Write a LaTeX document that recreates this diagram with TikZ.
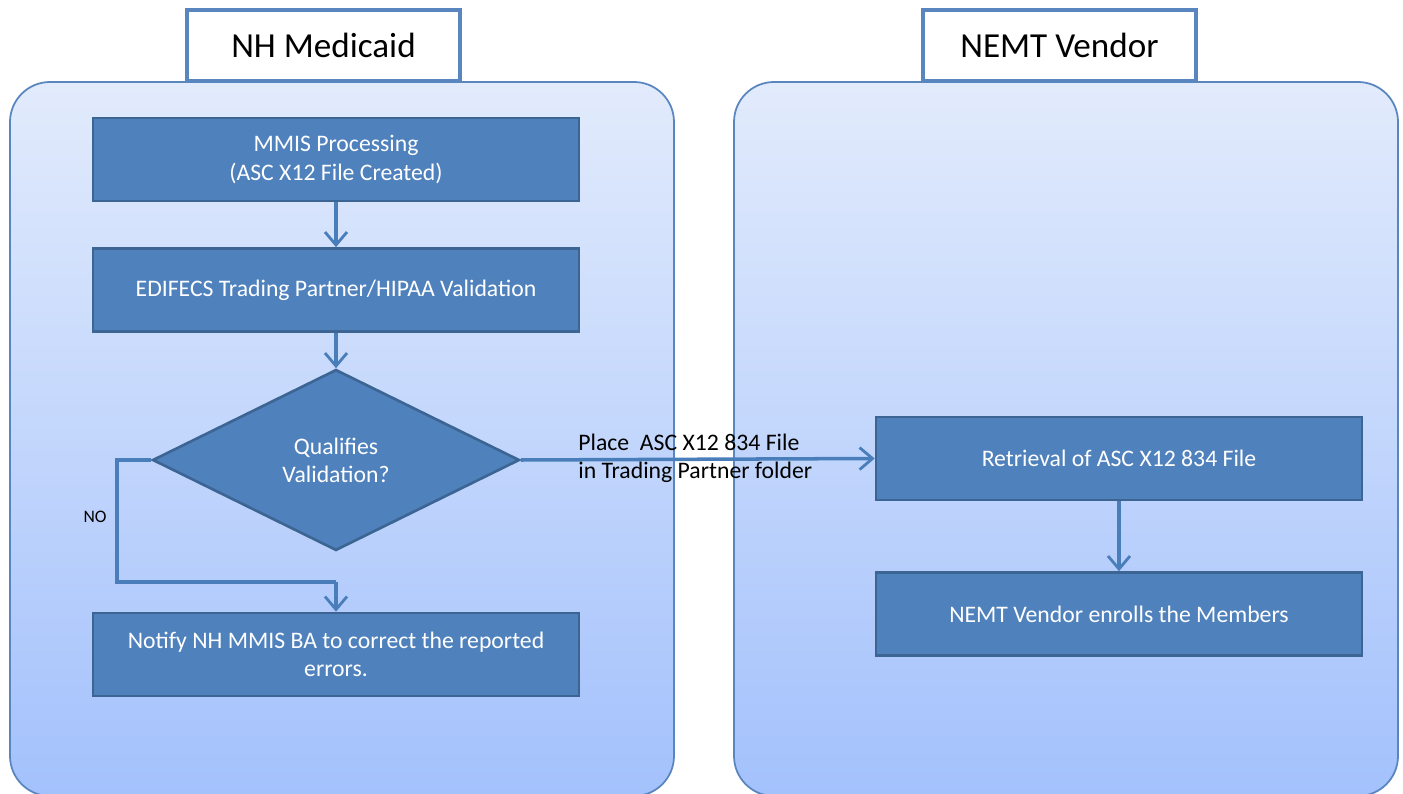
\documentclass[tikz,border=0pt]{standalone}
\usepackage{fontspec}
\setmainfont{Carlito}
\usetikzlibrary{shapes.geometric,arrows.meta}
\definecolor{boxfill}{HTML}{4F81BD}
\definecolor{boxline}{HTML}{3C6593}
\definecolor{panline}{HTML}{5A86C0}
\definecolor{pantop}{HTML}{E2EBFC}
\definecolor{panbot}{HTML}{A3C1FC}
\definecolor{arrowc}{HTML}{4A7EBB}
\tikzset{
  panel/.style={draw=panline, line width=1pt, rounded corners=0.8cm, top color=pantop, bottom color=panbot},
  titlebox/.style={draw=panline, line width=2pt, fill=white, font=\fontsize{20}{24}\selectfont, inner sep=0pt},
  procbox/.style={draw=boxline, line width=1.5pt, fill=boxfill, text=white, font=\fontsize{13.5}{16}\selectfont, align=center, inner sep=0pt, minimum width=9.72cm, minimum height=1.66cm},
  decision/.style={diamond, aspect=2.03, draw=boxline, line width=1.5pt, fill=boxfill, text=white, font=\fontsize{13.5}{16}\selectfont, align=center, inner sep=0pt, minimum width=7.34cm, minimum height=3.62cm},
  flow/.style={draw=arrowc, line width=2pt, -{Straight Barb[length=2.6mm, width=4.4mm, line width=1.6pt]}},
  flowplain/.style={draw=arrowc, line width=2pt},
  lbl/.style={font=\fontsize{13.5}{16}\selectfont, text=black, align=left, inner sep=0pt},
}
\begin{document}
\begin{tikzpicture}[x=0.02cm,y=-0.02cm]
\useasboundingbox (0,0) rectangle (1403,794);
% panels
\path[panel] (10,82) rectangle (674,796);
\path[panel] (734,82) rectangle (1398,796);
% titles
\node[titlebox, minimum width=5.46cm, minimum height=1.42cm] (t1) at (323.5,45.5) {NH Medicaid};
\node[titlebox, minimum width=5.46cm, minimum height=1.42cm] (t2) at (1059.5,45.5) {NEMT Vendor};
% boxes
\node[procbox] (mmis) at (336,159.5) {MMIS Processing\\(ASC X12 File Created)};
\node[procbox] (edi) at (336,290) {EDIFECS Trading Partner/HIPAA Validation};
\node[decision] (dec) at (336,460) {Qualifies\\Validation?};
\node[procbox] (notify) at (336,654.5) {Notify NH MMIS BA to correct the reported\\errors.};
\node[procbox] (retr) at (1119,458.5) {Retrieval of ASC X12 834 File};
\node[procbox] (enr) at (1119,614) {NEMT Vendor enrolls the Members};
% connectors
\draw[flow] (mmis) -- (edi);
\draw[flow] (edi) -- (dec);
\coordinate (c1) at (117,460);
\coordinate (c2) at (117,582);
\coordinate (c3) at (336,582);
\draw[flowplain] (dec.west) -- (c1) -- (c2) -- (c3);
\draw[flow] (c3) -- (notify.north);
\node[lbl, font=\fontsize{10}{12}\selectfont] (no) at (95,517) {NO};
\draw[flow] (dec.east) -- (retr.west);
\node[lbl, anchor=west] (pl) at (578,458) {Place\ \ ASC X12 834 File\\in Trading Partner folder};
\draw[flow] (retr) -- (enr);
\end{tikzpicture}
\end{document}
